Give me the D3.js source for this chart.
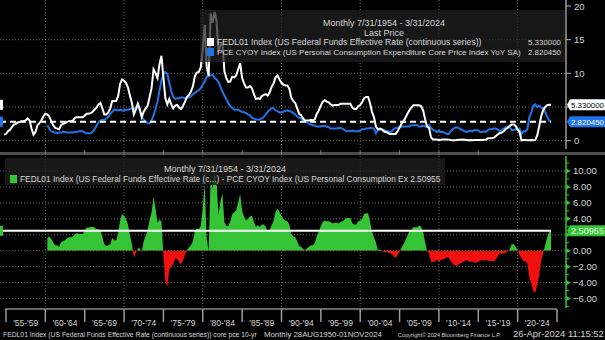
<!DOCTYPE html>
<html>
<head>
<meta charset="utf-8">
<script src="https://cdn.jsdelivr.net/npm/d3@7"></script>
<style>
    body { margin: 0; background: #000; }
    svg { display: block; font-family: "Liberation Sans", Arial, sans-serif; }
</style>
</head>
<body>
<div id="chart"></div>
<script>
// Fed funds effective rate, quarterly, first value = Q3 1954
const fedStart = [1954, 3];
const fedFunds = [
    0.9, 1.0,
    1.4, 1.6, 2.0, 2.4,   2.5, 2.7, 2.8, 2.9,   2.9, 3.0, 3.3, 3.0,   1.8, 0.9, 1.3, 2.3,   2.6, 3.0, 3.6, 4.0,
    3.9, 3.6, 2.9, 2.3,   1.9, 1.8, 1.7, 2.3,   2.5, 2.6, 2.8, 2.9,   2.9, 3.0, 3.4, 3.5,   3.5, 3.5, 3.5, 3.7,
    4.0, 4.0, 4.1, 4.3,   4.6, 4.9, 5.4, 5.6,   4.8, 3.9, 3.9, 4.2,   4.8, 5.9, 5.9, 5.9,   6.6, 8.4, 9.1, 8.9,
    8.6, 7.9, 6.7, 5.6,   3.9, 4.6, 5.5, 4.7,   3.5, 4.3, 4.8, 5.2,   6.5, 7.8, 10.6, 10.0, 9.3, 11.3, 12.6, 9.4,
    6.3, 5.4, 6.2, 5.4,   4.8, 5.2, 5.3, 4.9,   4.7, 5.2, 5.8, 6.5,   6.8, 7.3, 8.1, 9.6,   10.1, 10.2, 10.9, 13.6,
    17.2, 11.0, 9.6, 18.9, 17.5, 19.1, 17.8, 13.2, 14.2, 14.5, 10.3, 9.3, 8.7, 8.8, 9.5, 9.4, 9.7, 10.6, 11.5, 9.3,
    8.5, 7.9, 7.9, 8.1,   7.8, 6.9, 6.2, 6.3,   6.2, 6.6, 6.8, 6.9,   6.7, 7.2, 8.0, 8.5,   9.4, 9.7, 9.1, 8.6,
    8.3, 8.2, 8.2, 7.7,   6.4, 5.9, 5.6, 4.8,   4.0, 3.8, 3.3, 3.0,   3.0, 3.0, 3.1, 3.0,   3.2, 4.0, 4.5, 5.2,
    5.8, 6.0, 5.8, 5.7,   5.4, 5.2, 5.3, 5.3,   5.3, 5.5, 5.5, 5.5,   5.5, 5.5, 5.5, 4.9,   4.7, 4.7, 5.1, 5.3,
    5.7, 6.3, 6.5, 6.5,   5.6, 4.3, 3.5, 2.1,   1.7, 1.8, 1.7, 1.4,   1.3, 1.2, 1.0, 1.0,   1.0, 1.0, 1.4, 1.9,
    2.5, 2.9, 3.4, 4.0,   4.5, 4.9, 5.25, 5.25, 5.26, 5.25, 5.1, 4.5, 3.2, 2.1, 1.9, 0.5,   0.18, 0.18, 0.16, 0.12,
    0.13, 0.19, 0.19, 0.19, 0.16, 0.09, 0.08, 0.07, 0.10, 0.15, 0.14, 0.16, 0.14, 0.12, 0.08, 0.09, 0.07, 0.09, 0.09, 0.10,
    0.11, 0.12, 0.14, 0.16, 0.36, 0.37, 0.40, 0.45, 0.70, 0.95, 1.15, 1.20, 1.45, 1.74, 1.92, 2.22, 2.40, 2.40, 2.19, 1.64,
    1.25, 0.06, 0.09, 0.09, 0.08, 0.07, 0.09, 0.08, 0.12, 0.77, 2.19, 3.65, 4.52, 4.99, 5.26, 5.33,
    5.33
];

// Core PCE YoY, quarterly, first value = Q1 1960
const pceStart = [1960, 1];
const corePce = [
    2.3, 1.8, 1.4, 1.3,   1.2, 1.1, 1.2, 1.2,   1.3, 1.3, 1.2, 1.2,   1.2, 1.2, 1.3, 1.3,   1.4, 1.4, 1.4, 1.2,
    1.1, 1.1, 1.1, 1.3,   1.7, 2.2, 2.7, 3.0,   3.1, 3.1, 3.3, 3.5,   4.0, 4.3, 4.6, 4.6,   4.5, 4.6, 4.5, 4.5,
    4.6, 4.6, 4.7, 4.8,   4.7, 4.9, 5.2, 4.4,   3.6, 3.1, 2.9, 2.6,   2.6, 3.0, 3.8, 4.7,   5.8, 7.4, 8.9, 9.9,
    10.2, 9.9, 8.6, 7.3,  6.5, 6.2, 6.3, 6.3,   6.4, 6.4, 6.3, 6.4,   6.4, 6.6, 6.9, 7.1,   7.3, 7.5, 7.8, 8.3,
    8.8, 9.5, 9.6, 9.7,   9.8, 9.3, 9.1, 8.7,   8.0, 7.3, 6.7, 6.2,   5.6, 5.1, 4.9, 4.6,   4.6, 4.6, 4.4, 4.3,
    4.2, 4.1, 3.9, 3.8,   3.4, 3.3, 3.2, 3.1,   3.2, 3.3, 3.5, 3.9,   4.3, 4.6, 4.8, 4.8,   4.5, 4.4, 4.2, 4.2,
    4.3, 4.4, 4.5, 4.4,   4.3, 4.1, 3.9, 3.6,   3.4, 3.3, 3.1, 2.9,   2.7, 2.5, 2.4, 2.3,   2.2, 2.1, 2.1, 2.1,
    2.2, 2.2, 2.1, 2.0,   1.8, 1.8, 1.8, 1.8,   1.9, 1.9, 1.8, 1.6,   1.4, 1.4, 1.4, 1.5,   1.4, 1.4, 1.4, 1.5,
    1.7, 1.7, 1.8, 1.8,   1.9, 1.9, 1.8, 1.1,   1.6, 1.6, 1.7, 1.6,   1.5, 1.4, 1.3, 1.4,   1.7, 1.9, 1.9, 2.1,
    2.1, 2.1, 2.1, 2.1,   2.1, 2.3, 2.3, 2.3,   2.3, 2.1, 2.1, 2.2,   2.1, 2.1, 2.3, 1.9,   1.6, 1.5, 1.3, 1.5,
    1.3, 1.3, 1.2, 1.0,   1.0, 1.4, 1.7, 1.9,   2.0, 1.9, 1.7, 1.6,   1.4, 1.3, 1.4, 1.5,   1.4, 1.6, 1.6, 1.5,
    1.3, 1.3, 1.4, 1.3,   1.6, 1.7, 1.7, 1.8,   1.8, 1.6, 1.4, 1.6,   1.8, 2.0, 2.0, 2.0,   1.6, 1.6, 1.7, 1.6,
    1.8, 1.0, 1.4, 1.4,   1.7, 3.5, 4.2, 5.2,   5.4, 5.0, 5.2, 4.9,   4.8, 4.3, 3.6, 3.0,
    2.82045
];

const periodLabels = ["'55-'59", "'60-'64", "'65-'69", "'70-'74", "'75-'79", "'80-'84", "'85-'89",
    "'90-'94", "'95-'99", "'00-'04", "'05-'09", "'10-'14", "'15-'19", "'20-'24"];
const topTicks = [0, 5, 10, 15, 20];
const bottomTicks = [-6, -4, -2, 0, 2, 4, 6, 8, 10];

const legendHeader = "Monthly 7/31/1954 - 3/31/2024";
const fedName = "FEDL01 Index (US Federal Funds Effective Rate (continuous series))";
const pceName = "PCE CYOY Index (US Personal Consumption Expenditure Core Price Index YoY SA)";
const spreadName = "FEDL01 Index (US Federal Funds Effective Rate (c...) - PCE CYOY Index (US Personal Consumption Ex";
const footerParts = [
    "FEDL01 Index (US Federal Funds Effective Rate (continuous series)) core pce 10-yr",
    "Monthly 28AUG1950-01NOV2024",
    "Copyright\u00A9 2024 Bloomberg Finance L.P.",
    "26-Apr-2024 11:15:52"
];

const WHITE = "#ffffff", BLUE = "#1f74e8", GREEN = "#35c435", RED = "#f01010";
const GRID = "#6a6a6a", TXT = "#d6d6d6";

function quarterEnd(y, q) { return new Date(y, q * 3, 0); }

function toSeries(start, values) {
    return values.map((v, i) => {
        let q = start[1] - 1 + i;
        return {date: quarterEnd(start[0] + Math.floor(q / 4), (q % 4) + 1), value: v};
    });
}

// shrink/grow font so a text takes the width it has in the original
function fitText(sel, w) {
    let node = sel.node();
    let size = +sel.attr("font-size");
    let len = node.getComputedTextLength();
    if (len > 0) sel.attr("font-size", (size * w / len).toFixed(2));
    return sel;
}

const width = 605, height = 340;
const svg = d3.select("#chart").append("svg")
    .attr("width", width)
    .attr("height", height);

svg.append("rect").attr("width", width).attr("height", height).attr("fill", "#000");

let fedData = toSeries(fedStart, fedFunds);
let pceData = toSeries(pceStart, corePce);
let offset = (pceStart[0] - fedStart[0]) * 4 + (pceStart[1] - fedStart[1]);
let spreadData = pceData.map((d, i) => ({date: d.date, value: fedData[i + offset].value - d.value}));

let lastFed = fedData[fedData.length - 1].value;
let lastPce = pceData[pceData.length - 1].value;
let lastSpread = spreadData[spreadData.length - 1].value;

// scales
let x = d3.scaleTime()
    .domain([new Date(1955, 0, 1), new Date(2025, 0, 1)])
    .range([6, 557]);
let yTop = d3.scaleLinear().domain([0, 20]).range([140.7, 6]);
let yBot = d3.scaleLinear().domain([-6.8, 12]).range([305, 155]);

let axisX = 566;
let decades = d3.range(1960, 2021, 10).map(y => new Date(y, 0, 1));
let fiveYears = d3.range(1955, 2026, 5).map(y => new Date(y, 0, 1));

// tick labels that sit under a last-value tag are hidden, like the original
function freeOf(tagYs, scale) {
    return d => tagYs.every(t => Math.abs(scale(d) - t) > 7);
}

// ---------- top panel ----------
let topG = svg.append("g");

topG.selectAll(".hgrid").data(topTicks.slice(0, 4)).enter().append("line")
    .attr("x1", 0).attr("x2", axisX)
    .attr("y1", d => yTop(d)).attr("y2", d => yTop(d))
    .attr("stroke", GRID).attr("stroke-dasharray", "1,2");
topG.selectAll(".vgrid").data(decades).enter().append("line")
    .attr("x1", d => x(d)).attr("x2", d => x(d))
    .attr("y1", 0).attr("y2", 149)
    .attr("stroke", GRID).attr("stroke-dasharray", "1,2");

let lineTop = d3.line().x(d => x(d.date)).y(d => yTop(d.value));

topG.append("path").datum(pceData)
    .attr("d", lineTop).attr("fill", "none")
    .attr("stroke", BLUE).attr("stroke-width", 2);
topG.append("path").datum(fedData)
    .attr("d", lineTop).attr("fill", "none")
    .attr("stroke", WHITE).attr("stroke-width", 2);

let lastX = x(fedData[fedData.length - 1].date);
topG.append("line")
    .attr("x1", 0).attr("x2", lastX)
    .attr("y1", yTop(lastPce)).attr("y2", yTop(lastPce))
    .attr("stroke", WHITE).attr("stroke-width", 2).attr("stroke-dasharray", "6,4");

// legend (semi transparent, lines behind show through)
topG.append("rect")
    .attr("x", 200).attr("y", 10).attr("width", 365).attr("height", 52)
    .attr("fill", "#202020").attr("opacity", 0.72);
topG.append("text").attr("x", 384).attr("y", 26).attr("text-anchor", "middle")
    .attr("font-size", 9).attr("fill", TXT).text(legendHeader);
topG.append("text").attr("x", 384).attr("y", 36).attr("text-anchor", "middle")
    .attr("font-size", 9).attr("fill", TXT).text("Last Price");

let legendRows = [
    {name: fedName, color: WHITE, value: d3.format(".6f")(lastFed), y: 42, w: 265},
    {name: pceName, color: BLUE, value: d3.format(".6f")(lastPce), y: 52, w: 304}
];
legendRows.forEach(r => {
    topG.append("rect").attr("x", 207).attr("y", r.y - 4).attr("width", 7).attr("height", 8).attr("fill", r.color);
    fitText(topG.append("text").attr("x", 217).attr("y", r.y + 3.2)
        .attr("font-size", 9).attr("fill", TXT)
        .text(r.name), r.w);
    fitText(topG.append("text").attr("x", 528).attr("y", r.y + 3.2)
        .attr("font-size", 8.5).attr("fill", TXT)
        .text(r.value), 33);
});

// last value tags
function tag(g, yPos, fill, textColor, label) {
    g.append("path")
        .attr("d", `M${axisX + 1},${yPos} L${axisX + 4},${yPos - 5.5} L${width},${yPos - 5.5} L${width},${yPos + 5.5} L${axisX + 4},${yPos + 5.5} Z`)
        .attr("fill", fill);
    fitText(g.append("text").attr("x", axisX + 5).attr("y", yPos + 3.3)
        .attr("font-size", 8.5).attr("fill", textColor)
        .text(label), 33);
    g.append("rect").attr("x", 0).attr("y", yPos - 5).attr("width", 3).attr("height", 10).attr("fill", fill);
}

let topTagYs = [yTop(lastFed), yTop(lastPce)];

// right axis
topG.append("line").attr("x1", axisX).attr("x2", axisX).attr("y1", 0).attr("y2", 149)
    .attr("stroke", "#9a9a9a").attr("stroke-width", 1.5);
topG.selectAll(".tick").data(topTicks).enter().append("line")
    .attr("x1", axisX).attr("x2", axisX + 5)
    .attr("y1", d => yTop(d)).attr("y2", d => yTop(d))
    .attr("stroke", "#bbb");
topG.selectAll(".tlabel").data(topTicks.filter(freeOf(topTagYs, yTop))).enter().append("text")
    .attr("x", axisX + 8).attr("y", d => yTop(d) + 3.5)
    .attr("font-size", 9.5).attr("fill", TXT).text(d => d);

tag(topG, topTagYs[0], WHITE, "#000", d3.format(".6f")(lastFed));
tag(topG, topTagYs[1], BLUE, "#fff", d3.format(".6f")(lastPce));

// ---------- separator ----------
svg.append("rect").attr("x", 0).attr("y", 152).attr("width", width).attr("height", 3).attr("fill", "#4d4d4d");
svg.selectAll(".septick").data(fiveYears.slice(1, 14)).enter().append("line")
    .attr("x1", d => x(d)).attr("x2", d => x(d))
    .attr("y1", 150).attr("y2", 155)
    .attr("stroke", "#777");

// ---------- bottom panel ----------
let botG = svg.append("g");

botG.selectAll(".hgrid").data(bottomTicks).enter().append("line")
    .attr("x1", 0).attr("x2", axisX)
    .attr("y1", d => yBot(d)).attr("y2", d => yBot(d))
    .attr("stroke", GRID).attr("stroke-dasharray", "1,2");
botG.selectAll(".vgrid").data(decades).enter().append("line")
    .attr("x1", d => x(d)).attr("x2", d => x(d))
    .attr("y1", 156).attr("y2", 308)
    .attr("stroke", GRID).attr("stroke-dasharray", "1,2");

let defs = svg.append("defs");
defs.append("clipPath").attr("id", "clipPos").append("rect")
    .attr("x", 0).attr("y", 150).attr("width", width).attr("height", yBot(0) - 150);
defs.append("clipPath").attr("id", "clipNeg").append("rect")
    .attr("x", 0).attr("y", yBot(0)).attr("width", width).attr("height", 310 - yBot(0));

let area = d3.area().x(d => x(d.date)).y0(yBot(0)).y1(d => yBot(d.value));
botG.append("path").datum(spreadData).attr("d", area)
    .attr("fill", GREEN).attr("clip-path", "url(#clipPos)");
botG.append("path").datum(spreadData).attr("d", area)
    .attr("fill", RED).attr("clip-path", "url(#clipNeg)");

botG.append("line")
    .attr("x1", 0).attr("x2", x(spreadData[spreadData.length - 1].date))
    .attr("y1", yBot(lastSpread)).attr("y2", yBot(lastSpread))
    .attr("stroke", WHITE).attr("stroke-width", 2);

// legend
botG.append("rect")
    .attr("x", 5).attr("y", 158).attr("width", 440).attr("height", 27)
    .attr("fill", "#1e1e1e").attr("opacity", 0.8);
botG.append("text").attr("x", 225).attr("y", 171.5).attr("text-anchor", "middle")
    .attr("font-size", 9).attr("fill", TXT).text(legendHeader);
botG.append("rect").attr("x", 10).attr("y", 175).attr("width", 7).attr("height", 8).attr("fill", GREEN);
fitText(botG.append("text").attr("x", 20).attr("y", 182.2)
    .attr("font-size", 9).attr("fill", TXT)
    .text(spreadName + " " + d3.format(".5f")(lastSpread)), 421);

let botTagYs = [yBot(lastSpread)];

// right axis
botG.append("line").attr("x1", axisX).attr("x2", axisX).attr("y1", 156).attr("y2", 308)
    .attr("stroke", GREEN).attr("stroke-width", 1.5);
botG.selectAll(".minor").data(d3.range(-7, 12, 2)).enter().append("line")
    .attr("x1", axisX).attr("x2", axisX + 3)
    .attr("y1", d => yBot(d)).attr("y2", d => yBot(d))
    .attr("stroke", GREEN);
botG.selectAll(".tick").data(bottomTicks).enter().append("path")
    .attr("d", d => `M${axisX},${yBot(d) - 2.5} L${axisX + 5},${yBot(d)} L${axisX},${yBot(d) + 2.5} Z`)
    .attr("fill", GREEN);
botG.selectAll(".tlabel").data(bottomTicks.filter(freeOf(botTagYs, yBot))).enter().append("text")
    .attr("x", axisX + 7).attr("y", d => yBot(d) + 3.5)
    .attr("font-size", 9.5).attr("fill", TXT).text(d => d3.format(".2f")(d));

tag(botG, botTagYs[0], GREEN, "#e8ffe8", d3.format(".5f")(lastSpread));

// ---------- x axis ----------
let xa = svg.append("g");
xa.append("line").attr("x1", 5).attr("x2", x(fiveYears[14])).attr("y1", 309).attr("y2", 309)
    .attr("stroke", "#8a8a8a").attr("stroke-width", 1.5);
xa.selectAll(".xtick").data(fiveYears).enter().append("line")
    .attr("x1", d => x(d)).attr("x2", d => x(d))
    .attr("y1", 309).attr("y2", 322)
    .attr("stroke", "#9a9a9a").attr("stroke-width", 1.5);
xa.selectAll(".xlabel").data(periodLabels).enter().append("text")
    .attr("x", (d, i) => (x(fiveYears[i]) + x(fiveYears[i + 1])) / 2)
    .attr("y", 326).attr("text-anchor", "middle")
    .attr("font-size", 8.5).attr("fill", TXT).text(d => d);

// footer
let footerX = [3, 264, 398, 513];
let footerW = [254, 118, 103, 91];
footerParts.forEach((t, i) => {
    fitText(svg.append("text").attr("x", footerX[i]).attr("y", 337)
        .attr("font-size", 7).attr("fill", TXT)
        .text(t), footerW[i]);
});
</script>
</body>
</html>
